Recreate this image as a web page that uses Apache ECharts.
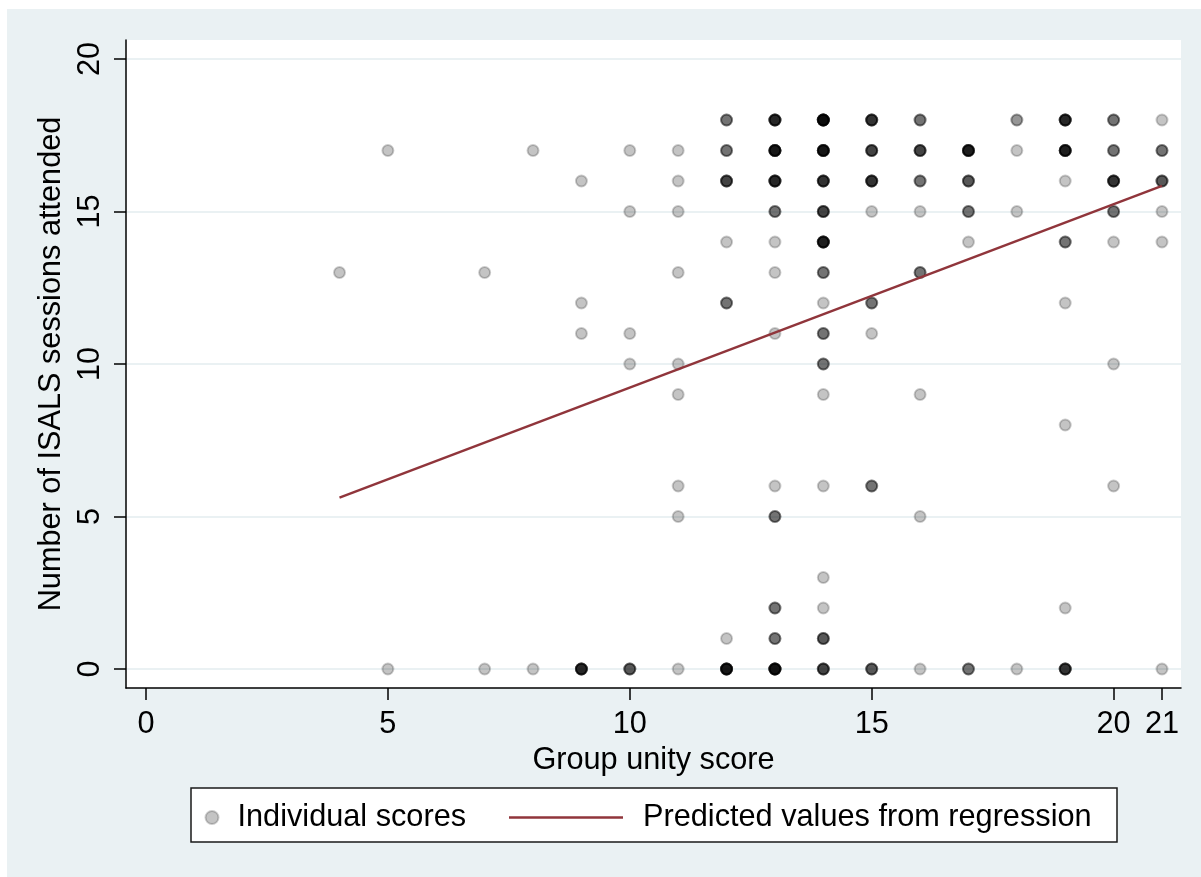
<!DOCTYPE html>
<html>
<head>
<meta charset="utf-8">
<script src="https://cdn.jsdelivr.net/npm/echarts@6/dist/echarts.min.js"></script>
<style>
  html, body { margin: 0; padding: 0; background: #fff; }
  #chart { width: 1201px; height: 877px; }
</style>
</head>
<body>
<div id="chart"></div>
<script>
// Observations grouped by (group unity score, sessions attended); the count is how
// many respondents share that exact pair (drawn as overlapping translucent markers).
const unityScore = [
  4,
  5, 5,
  7, 7,
  8, 8,
  9, 9, 9, 9,
  10, 10, 10, 10, 10,
  11, 11, 11, 11, 11, 11, 11, 11, 11,
  12, 12, 12, 12, 12, 12, 12,
  13, 13, 13, 13, 13, 13, 13, 13, 13, 13, 13, 13,
  14, 14, 14, 14, 14, 14, 14, 14, 14, 14, 14, 14, 14, 14, 14,
  15, 15, 15, 15, 15, 15, 15, 15,
  16, 16, 16, 16, 16, 16, 16, 16,
  17, 17, 17, 17, 17,
  18, 18, 18, 18,
  19, 19, 19, 19, 19, 19, 19, 19,
  20, 20, 20, 20, 20, 20, 20,
  21, 21, 21, 21, 21, 21
];
const sessionsAttended = [
  13,
  17, 0,
  13, 0,
  17, 0,
  16, 12, 11, 0,
  17, 15, 11, 10, 0,
  17, 16, 15, 13, 10, 9, 6, 5, 0,
  18, 17, 16, 14, 12, 1, 0,
  18, 17, 16, 15, 14, 13, 11, 6, 5, 2, 1, 0,
  18, 17, 16, 15, 14, 13, 12, 11, 10, 9, 6, 3, 2, 1, 0,
  18, 17, 16, 15, 12, 11, 6, 0,
  18, 17, 16, 15, 13, 9, 5, 0,
  17, 16, 15, 14, 0,
  18, 17, 15, 0,
  18, 17, 16, 14, 12, 8, 2, 0,
  18, 17, 16, 15, 14, 10, 6,
  18, 17, 16, 15, 14, 0
];
const respondentCount = [
  1,
  1, 1,
  1, 1,
  1, 1,
  1, 1, 1, 7,
  1, 1, 1, 1, 4,
  1, 1, 1, 1, 1, 1, 1, 1, 1,
  3, 3, 5, 1, 3, 1, 9,
  7, 9, 7, 3, 1, 1, 1, 1, 3, 3, 3, 10,
  11, 9, 6, 5, 8, 3, 1, 3, 3, 1, 1, 1, 1, 4, 5,
  6, 5, 6, 1, 3, 1, 3, 4,
  3, 5, 3, 1, 3, 1, 1, 1,
  8, 4, 3, 1, 3,
  2, 1, 1, 1,
  7, 8, 1, 3, 1, 1, 1, 6,
  3, 3, 6, 3, 1, 1, 1,
  1, 3, 4, 1, 1, 1
];

// Fitted regression line (predicted sessions at the lowest and highest unity score)
const fitX = [4, 21];
const fitY = [5.62, 15.84];

const xTicks = [0, 5, 10, 15, 20, 21];
const yTicks = [0, 5, 10, 15, 20];

// One marker per respondent so that shared values darken through overlap
const individuals = [];
unityScore.forEach((x, i) => {
  for (let k = 0; k < respondentCount[i]; k++) individuals.push([x, sessionsAttended[i]]);
});
const fitted = fitX.map((x, i) => [x, fitY[i]]);

const FONT = '"Liberation Sans", Arial, Helvetica, sans-serif';
const FS = 30.7;
const BG = '#eaf1f3';
const LINE_RED = '#90353b';

const chart = echarts.init(document.getElementById('chart'), null, { renderer: 'canvas' });
chart.setOption({
  animation: false,
  backgroundColor: '#ffffff',
  textStyle: { fontFamily: FONT },
  graphic: [
    { type: 'rect', z: -10, silent: true,
      shape: { x: 7, y: 9, width: 1194, height: 868 }, style: { fill: BG } },
    { type: 'rect', z: 1, silent: true,
      shape: { x: 191, y: 788, width: 926, height: 54 },
      style: { fill: '#ffffff', stroke: '#1a1a1a', lineWidth: 1.5 } }
  ],
  grid: {
    left: 126, top: 40, right: 20, bottom: 189,
    show: true, backgroundColor: '#ffffff', borderWidth: 0
  },
  xAxis: {
    type: 'value',
    min: -0.413, max: 21.393,
    name: 'Group unity score',
    nameLocation: 'middle', nameGap: 52,
    nameTextStyle: { fontSize: FS, color: '#000', fontFamily: FONT },
    axisLine: { onZero: false, lineStyle: { color: '#000', width: 1.5 } },
    axisTick: { customValues: xTicks, length: 12, lineStyle: { color: '#000', width: 1.5 } },
    axisLabel: { customValues: xTicks, fontSize: FS, color: '#000', margin: 21, fontFamily: FONT },
    splitLine: { show: false }
  },
  yAxis: {
    type: 'value',
    min: -0.623, max: 20.623,
    name: 'Number of ISALS sessions attended',
    nameLocation: 'middle', nameGap: 50,
    nameTextStyle: { fontSize: FS, color: '#000', fontFamily: FONT },
    axisLine: { onZero: false, lineStyle: { color: '#000', width: 1.5 } },
    axisTick: { customValues: yTicks, length: 12, lineStyle: { color: '#000', width: 1.5 } },
    axisLabel: { customValues: yTicks, rotate: 90, fontSize: FS, color: '#000', margin: 20, fontFamily: FONT },
    splitLine: { show: true, lineStyle: { color: BG, width: 2 } }
  },
  legend: [
    {
      data: ['Individual scores'],
      left: 204.5, top: 802, padding: 0,
      itemWidth: 13, itemHeight: 13,
      selectedMode: false,
      textStyle: { fontSize: FS, color: '#000', fontFamily: FONT, padding: [0, 0, 0, 14] }
    },
    {
      data: [{ name: 'Predicted values from regression', icon: 'rect' }],
      left: 509, top: 802, padding: 0,
      itemWidth: 114, itemHeight: 2.5,
      selectedMode: false,
      itemStyle: { color: LINE_RED, borderWidth: 0 },
      textStyle: { fontSize: FS, color: '#000', fontFamily: FONT, padding: [0, 0, 0, 15] }
    }
  ],
  series: [
    {
      name: 'Individual scores',
      type: 'scatter',
      data: individuals,
      symbol: 'circle',
      symbolSize: 11,
      z: 2,
      silent: true,
      itemStyle: {
        color: 'rgba(0,0,0,0.23)',
        borderColor: 'rgba(0,0,0,0.2)',
        borderWidth: 2,
        opacity: 1
      },
      emphasis: { disabled: true }
    },
    {
      name: 'Predicted values from regression',
      type: 'line',
      data: fitted,
      symbol: 'none',
      showSymbol: false,
      z: 3,
      silent: true,
      lineStyle: { color: LINE_RED, width: 2.5 },
      itemStyle: { color: LINE_RED },
      emphasis: { disabled: true }
    }
  ]
});
</script>
</body>
</html>
